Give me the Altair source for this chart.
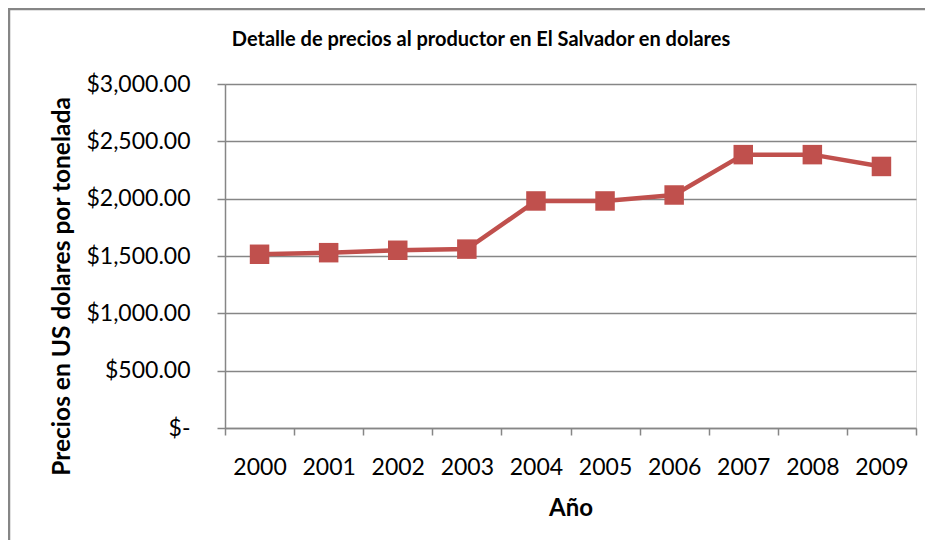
import altair as alt
import pandas as pd

years = ["2000", "2001", "2002", "2003", "2004", "2005", "2006", "2007", "2008", "2009"]
prices = [1515, 1529, 1550, 1560, 1980, 1980, 2032, 2384, 2384, 2281]
y_ticks = [0, 500, 1000, 1500, 2000, 2500, 3000]

title_text = "Detalle de precios al productor en El Salvador en dolares"
x_title = "Año"
y_title = "Precios en US dolares por tonelada"

df = pd.DataFrame({"year": years, "price": prices})

FONT = "Lato"
GRAY = "#868686"
RED = "#C0504D"

x_enc = alt.X(
    "year:N",
    bandPosition=0.5,
    scale=alt.Scale(type="band", paddingInner=0, paddingOuter=0),
    axis=alt.Axis(
        title=x_title,
        labelAngle=0,
        tickBand="extent",
        tickSize=7,
        tickColor=GRAY,
        tickWidth=1.5,
        domainColor=GRAY,
        domainWidth=1.5,
        labelFont=FONT,
        labelFontSize=23,
        labelColor="#000000",
        labelBaseline="middle",
        labelPadding=32,
        titleFont=FONT,
        titleFontSize=24,
        titleFontWeight="bold",
        titleColor="#000000",
        titleBaseline="middle",
        titleY=80,
        grid=False,
    ),
)

y_enc = alt.Y(
    "price:Q",
    scale=alt.Scale(domain=[0, 3000], nice=False, zero=True),
    axis=alt.Axis(
        title=y_title,
        values=y_ticks,
        labelExpr="datum.value == 0 ? '$-\u00a0\u00a0' : '$' + format(datum.value, ',.2f')",
        tickSize=8,
        tickColor=GRAY,
        tickWidth=1.5,
        domainColor=GRAY,
        domainWidth=1.5,
        gridColor=GRAY,
        gridWidth=1.5,
        labelFont=FONT,
        labelFontSize=23,
        labelColor="#000000",
        labelAlign="right",
        labelBaseline="middle",
        labelPadding=27,
        titleFont=FONT,
        titleFontSize=24.5,
        titleFontWeight="bold",
        titleColor="#000000",
        titleAngle=270,
        titleAlign="center",
        titleBaseline="middle",
        titleX=-163,
        titleY=202,
    ),
)

base = alt.Chart(df)
line = base.mark_line(color=RED, strokeWidth=4.5).encode(x=x_enc, y=y_enc)
pts = base.mark_square(color=RED, size=380, opacity=1, filled=True).encode(x=x_enc, y=y_enc)

one = pd.DataFrame({"t": [title_text]})
frame = alt.Chart(one).mark_rect(
    fill=None, stroke=GRAY, strokeWidth=2.5, clip=False
).encode(
    x=alt.value(-216), x2=alt.value(720), y=alt.value(-75), y2=alt.value(520)
)
title_mark = alt.Chart(one).mark_text(
    font=FONT, fontSize=20, fontWeight="bold", color="#000000",
    align="center", baseline="middle", clip=False
).encode(
    text="t:N", x=alt.value(256), y=alt.value(-44)
)

chart = alt.layer(frame, line, pts, title_mark).properties(
    width=691,
    height=344,
    autosize=alt.AutoSizeParams(type="none"),
    padding={"left": 217, "top": 76, "right": 9, "bottom": 112},
).configure_view(stroke=None).configure(background="#ffffff")

chart.save("out.html", embed_options={"renderer": "svg", "actions": False})
